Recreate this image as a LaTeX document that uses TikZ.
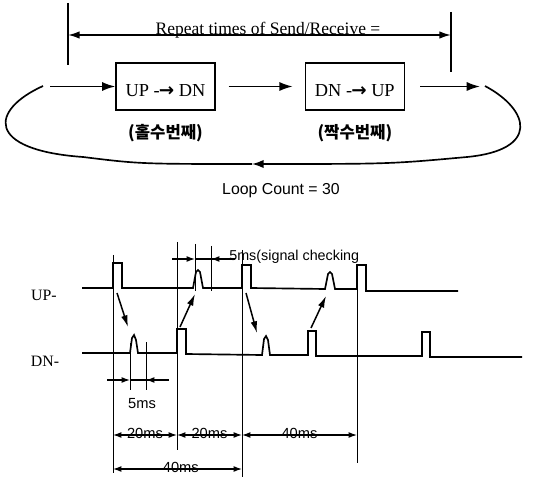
\documentclass[tikz,border=0pt]{standalone}
\usepackage{fontspec}
\setmainfont{Liberation Serif}
\setsansfont{Liberation Sans}
\newfontfamily\kofont{Noto Sans CJK KR}
\newfontfamily\arrfont{DejaVu Sans}
\usetikzlibrary{positioning,arrows.meta}
\newcommand{\sendto}{-{\arrfont\bfseries\kern-0.5pt→}}
\tikzset{
    loopbox/.style={draw, line width=0.8pt, inner sep=0pt, minimum width=59.4pt, text height=20.4pt, text depth=7.8pt, font=\fontsize{11}{13}\selectfont},
    looptag/.style={font=\kofont\bfseries\fontsize{10}{12}\selectfont, inner sep=0pt},
    looparrow/.style={draw, line width=1pt, -{Latex[length=8pt, width=5.5pt]}},
    loopline/.style={draw, line width=1pt},
    looptick/.style={draw, line width=0.4pt},
    loopwave/.style={draw, line width=1pt, line join=miter},
    timedim/.style={draw, line width=0.7pt, {Latex[length=5pt, width=3.5pt]}-{Latex[length=5pt, width=3.5pt]}},
    timeptr/.style={draw, line width=0.7pt, -{Latex[length=5pt, width=3.5pt]}},
    timejump/.style={draw, line width=0.9pt, -{Latex[length=7pt, width=4pt]}},
    timelabel/.style={font=\sffamily\fontsize{8.8}{10}\selectfont, inner sep=0pt},
    tracelabel/.style={font=\fontsize{9.5}{11}\selectfont, inner sep=0pt}
}

\begin{document}
\begin{tikzpicture}[x=0.6pt, y=-0.6pt]
    \useasboundingbox (0,0) rectangle (540,477);

    % send/receive loop
    \node[loopbox] (updn) at (165.5,86.5) {UP \sendto{} DN};
    \node[loopbox, right=53.4pt of updn] (dnup) {DN \sendto{} UP};
    \node[looptag, below=8pt of updn] (odd) {(홀수번째)};
    \node[looptag, below=8pt of dnup] (even) {(짝수번째)};

    \coordinate (loopin) at (50,86.5);
    \coordinate (loopout) at (480,86.5);
    \draw[looparrow] (loopin) -- (updn.west);
    \draw[looparrow] ([xshift=7.8pt]updn.east) -- ([xshift=-7.2pt]dnup.west);
    \draw[looparrow] ([xshift=9pt]dnup.east) -- (loopout);

    \coordinate (loopR) at (485,86);
    \coordinate (loopL) at (43,86);
    \coordinate (loopmid) at (252,164);
    \draw[loopline, -{Latex[length=7pt, width=5pt]}] (loopR) .. controls (530,110) and (540,150) .. (467,157) .. controls (390,164) .. (loopmid);
    \draw[loopline] (loopmid) .. controls (140,164) .. (83,157) .. controls (-15,150) and (-10,110) .. (loopL);

    \coordinate (repL) at (68,35);
    \coordinate (repR) at (451,35);
    \draw[looptick, line width=0.9pt] (68,3) -- (68,65);
    \draw[looptick, line width=0.9pt] (451,12) -- (451,72);
    \draw[looparrow, {Latex[length=7pt, width=4.5pt]}-{Latex[length=7pt, width=4.5pt]}] (repL) -- node[pos=0.522, anchor=base, font=\fontsize{10.5}{12}\selectfont, inner sep=0pt] {Repeat times of Send/Receive =} (repR);

    \node[font=\sffamily\fontsize{9.5}{11}\selectfont] (count) at (281,191) {Loop Count = 30};

    % timing
    \node[tracelabel] (uplbl) at (44,295) {UP-};
    \node[tracelabel] (dnlbl) at (45,361) {DN-};

    \draw[loopwave] (82,288) -- (113,288) -- (113,263) -- (122,263) -- (122,288) -- (193,288)
        -- (196,272) -- (198,270) -- (200,272) -- (203,288) -- (242,288) -- (242,265) -- (251,265)
        -- (251,288) -- (325,289) -- (328,274) -- (330,272) -- (332,274) -- (335,289) -- (357,289)
        -- (357,265) -- (366,265) -- (366,291) -- (458,291);
    \draw[loopwave] (82,353) -- (130,353) -- (132,338) -- (134,335) -- (136,340) -- (138,353) -- (177,353)
        -- (177,329) -- (186,329) -- (186,354) -- (262,355) -- (264,339) -- (266,336) -- (268,340)
        -- (270,355) -- (308,355) -- (308,331) -- (316,331) -- (316,356) -- (422,356) -- (422,332)
        -- (430,332) -- (430,357) -- (522,357);

    \foreach \x/\a/\b in {113/255/473, 177/242/450, 195/244/291, 211/246/291, 242/250/477, 357/264/463, 130/343/390, 146/342/390}
        \draw[looptick] (\x,\a) -- (\x,\b);

    \coordinate (upsrc1) at (117,293);
    \coordinate (dnchk1) at (128,327);
    \coordinate (dnsrc1) at (180,327);
    \coordinate (upchk1) at (195,294);
    \coordinate (upsrc2) at (246,293);
    \coordinate (dnchk2) at (257,333);
    \coordinate (dnsrc2) at (311,328);
    \coordinate (upchk2) at (326,296);
    \draw[timejump] (upsrc1) -- (dnchk1);
    \draw[timejump] (dnsrc1) -- (upchk1);
    \draw[timejump] (upsrc2) -- (dnchk2);
    \draw[timejump] (dnsrc2) -- (upchk2);

    \coordinate (m0) at (113,0);
    \coordinate (m1) at (177,0);
    \coordinate (m2) at (242,0);
    \coordinate (m3) at (357,0);
    \coordinate (lvA) at (0,435);
    \coordinate (lvB) at (0,469);

    \draw[timedim] (m0 |- lvA) -- node[timelabel, yshift=1pt] {20ms} (m1 |- lvA);
    \draw[timedim] (m1 |- lvA) -- node[timelabel, yshift=1pt] {20ms} (m2 |- lvA);
    \draw[timedim] (m2 |- lvA) -- node[timelabel, yshift=1pt] {40ms} (m3 |- lvA);
    \draw[timedim] (m0 |- lvB) -- node[timelabel, yshift=1pt, xshift=2pt] {40ms} (m2 |- lvB);

    \coordinate (chkA) at (195,259);
    \coordinate (chkB) at (211,259);
    \draw[timeptr] (172,259) -- (chkA);
    \draw[looptick, line width=0.7pt] (chkA) -- (235,259);
    \draw[timeptr] (225,259) -- (chkB);
    \node[timelabel, anchor=west, font=\sffamily\fontsize{8.6}{10}\selectfont] (chklbl) at (229,257) {5ms(signal checking};

    \coordinate (winA) at (130,380);
    \coordinate (winB) at (146,380);
    \draw[timeptr] (107,380) -- (winA);
    \draw[looptick, line width=0.7pt] (winA) -- (169,380);
    \draw[timeptr] (169,380) -- (winB);
    \node[timelabel] (winlbl) at (142,404) {5ms};
\end{tikzpicture}
\end{document}
